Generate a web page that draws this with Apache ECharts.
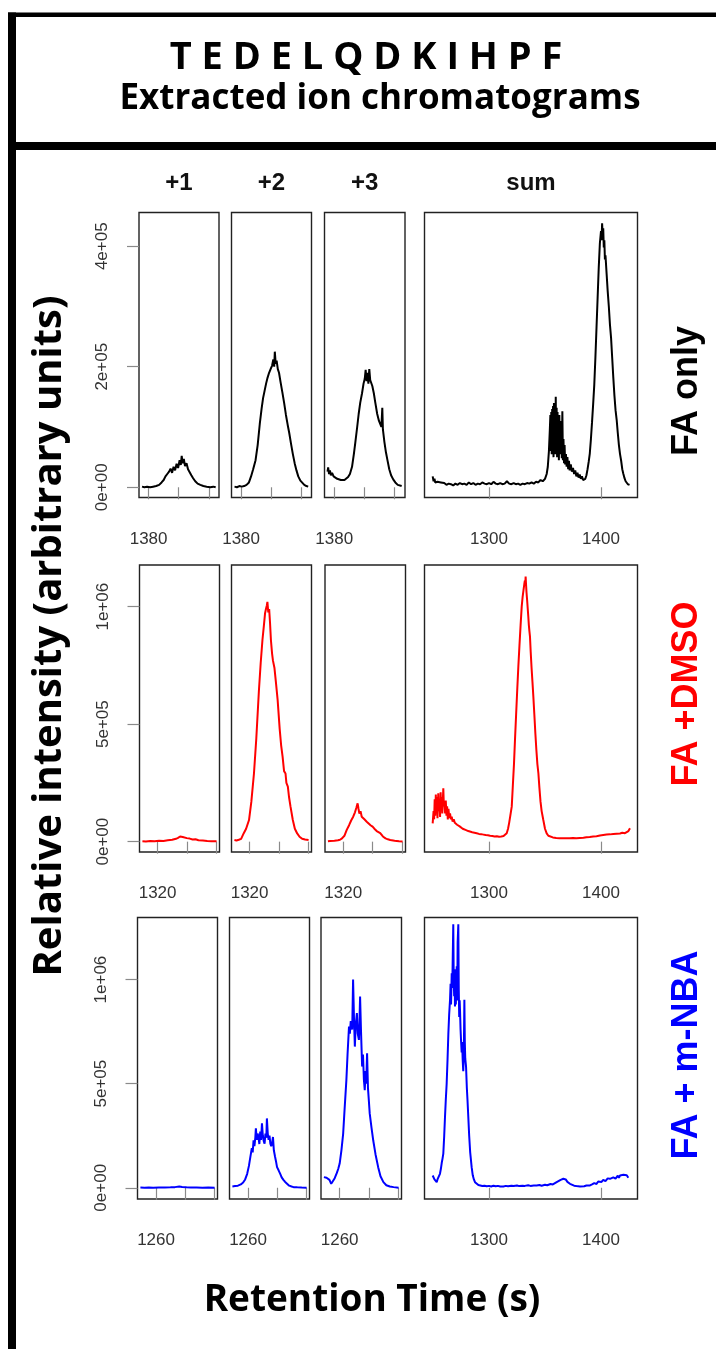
<!DOCTYPE html>
<html>
<head>
<meta charset="utf-8">
<script src="https://cdn.jsdelivr.net/npm/echarts@6/dist/echarts.min.js"></script>
<style>
html,body{margin:0;padding:0;background:#ffffff;}
#chart{width:716px;height:1349px;}
</style>
</head>
<body>
<div id="chart"></div>
<script>
// ---------------- DATA (retention time s, intensity in thousands) ----------------
const INTENSITY_UNIT = 1000;

const conditionNames = ['FA only', 'FA +DMSO', 'FA + m-NBA'];
const chargeTitles = ['+1', '+2', '+3', 'sum'];

// FA only
const faOnlyPlus1 = [[1377.8,1],[1378.6,0],[1379.5,1],[1380.5,0],[1381.5,1],[1382.5,2],[1383.5,4],[1384.3,8],[1385,12],[1385.6,18],[1386.2,22],[1386.8,26],[1387.3,31],[1387.8,24],[1388.3,34],[1388.8,28],[1389.3,39],[1389.8,32],[1390.3,45],[1390.7,37],[1391,52],[1391.3,40],[1391.7,47],[1392.1,35],[1392.6,40],[1393.1,30],[1393.6,28],[1394.2,20],[1394.8,15],[1395.5,10],[1396.3,6],[1397.2,4],[1398.2,2],[1399.3,1],[1400.5,0],[1401.5,1],[1402.3,0]];
const faOnlyPlus2 = [[1377.8,1],[1378.6,0],[1379.4,2],[1380.2,1],[1381,2],[1381.8,4],[1382.6,8],[1383.3,18],[1384,30],[1384.8,45],[1385.5,70],[1386.2,105],[1386.8,130],[1387.3,148],[1387.8,160],[1388.3,172],[1388.8,182],[1389.3,190],[1389.8,196],[1390.3,202],[1390.7,212],[1391,200],[1391.2,225],[1391.5,205],[1391.8,210],[1392.2,196],[1392.6,190],[1393.1,175],[1393.7,158],[1394.3,140],[1394.9,120],[1395.5,103],[1396,90],[1396.6,72],[1397.2,55],[1397.8,40],[1398.4,28],[1399,18],[1399.7,11],[1400.3,8],[1401,4],[1401.7,2],[1402.3,1]];
const faOnlyPlus3 = [[1377.8,26],[1378,33],[1378.3,22],[1378.6,28],[1378.9,20],[1379.3,24],[1379.8,18],[1380.3,19],[1381,14],[1381.6,16],[1382.2,12],[1382.8,15],[1383.4,12],[1384,13],[1384.6,17],[1385.2,22],[1385.9,34],[1386.5,55],[1387,75],[1387.6,100],[1388.1,122],[1388.6,140],[1389.2,156],[1389.7,172],[1390.1,180],[1390.4,195],[1390.7,176],[1391,190],[1391.3,172],[1391.6,196],[1391.9,178],[1392.2,176],[1392.6,168],[1393.1,156],[1393.6,140],[1394.2,122],[1394.8,110],[1395.3,104],[1395.6,100],[1395.9,132],[1396.1,96],[1396.6,75],[1397.1,58],[1397.6,45],[1398.2,30],[1398.8,20],[1399.5,13],[1400.2,8],[1401,4],[1402.3,2]];
const faOnlySum = [[1249.7,18],[1250.5,10],[1251.3,14],[1252,8],[1253,7],[1254,9],[1255.5,6],[1257,8],[1258.5,5],[1260,7],[1262,4],[1264,6],[1266,5],[1268,3],[1270,6],[1272,4],[1274,7],[1276,5],[1278,6],[1280,4],[1282,8],[1284,5],[1286,7],[1288,4],[1290,6],[1292,5],[1294,8],[1296,6],[1298,5],[1300,7],[1302,5],[1304,9],[1306,6],[1308,5],[1310,7],[1312,5],[1314,6],[1316,10],[1318,6],[1320,5],[1322,7],[1324,5],[1326,6],[1328,4],[1330,6],[1332,5],[1334,7],[1336,6],[1338,8],[1340,6],[1342,9],[1344,8],[1346,12],[1348,10],[1350,14],[1351.5,22],[1352.5,34],[1353.5,60],[1354.3,95],[1354.8,120],[1355.2,60],[1355.6,125],[1356,55],[1356.4,130],[1356.8,65],[1357.2,135],[1357.6,50],[1358,140],[1358.4,70],[1358.8,128],[1359.2,55],[1359.6,150],[1360,65],[1360.4,132],[1360.8,50],[1361.2,125],[1361.6,55],[1362,118],[1362.4,45],[1362.8,120],[1363.2,60],[1363.6,110],[1364,55],[1364.5,100],[1365,48],[1365.5,126],[1366,45],[1366.5,80],[1367,40],[1367.5,70],[1368,38],[1368.7,55],[1369.3,34],[1370,50],[1370.7,30],[1371.4,44],[1372,28],[1373,38],[1374,26],[1375,32],[1376,22],[1377,28],[1378,18],[1379,24],[1380,16],[1381,21],[1382,14],[1383,18],[1384,12],[1385,15],[1386,14],[1387,20],[1388,30],[1389,42],[1390,56],[1391,80],[1392,108],[1393,138],[1394,170],[1395,215],[1396,265],[1397,315],[1398,365],[1399,405],[1400,425],[1400.5,410],[1401,438],[1401.5,418],[1402,430],[1402.5,398],[1403,410],[1403.5,378],[1404,385],[1405,355],[1406,325],[1407,300],[1408,270],[1409,248],[1410,215],[1411,182],[1412,152],[1413,128],[1414,112],[1415,90],[1416,70],[1417,55],[1418,44],[1419,30],[1420,22],[1421,15],[1422,10],[1423,7],[1424,5],[1425.5,4]];

// FA + DMSO
const dmsoPlus1 = [[1314.8,2],[1316,1],[1317.5,3],[1319,2],[1320.5,4],[1322,3],[1323.5,6],[1325,8],[1326.3,12],[1327,16],[1327.7,22],[1328.2,28],[1328.6,20],[1329.2,24],[1330,15],[1331,13],[1332,9],[1333,10],[1334,6],[1335.5,5],[1337,3],[1338.5,2],[1340.2,2]];
const dmsoPlus2 = [[1314.8,7],[1315.5,5],[1316.3,8],[1317.1,12],[1318,36],[1318.8,55],[1319.8,92],[1320.6,170],[1321.5,291],[1322.3,440],[1323.2,645],[1323.8,760],[1324.4,858],[1324.9,920],[1325.3,972],[1325.6,990],[1325.9,1005],[1326.1,1020],[1326.4,975],[1326.7,990],[1327,930],[1327.3,858],[1327.7,800],[1328,770],[1328.2,766],[1328.5,740],[1329,680],[1329.6,603],[1330.3,480],[1330.8,410],[1331.3,362],[1331.8,300],[1332.3,290],[1332.6,250],[1333.1,234],[1333.5,190],[1334,150],[1334.8,92],[1335.5,55],[1336.3,35],[1337.1,21],[1338,12],[1339,9],[1340.2,7]];
const dmsoPlus3 = [[1314.8,2],[1315.5,3],[1317,4],[1318.2,6],[1318.9,8],[1319.6,14],[1320.4,25],[1321.2,50],[1322,70],[1322.7,90],[1323.4,106],[1324,125],[1324.5,145],[1324.9,163],[1325.2,140],[1325.5,120],[1325.9,130],[1326.3,106],[1326.7,112],[1327.2,95],[1328,85],[1328.6,80],[1329.3,70],[1330,64],[1330.6,55],[1331.4,45],[1332,40],[1332.6,36],[1333.5,22],[1334.4,14],[1335.2,10],[1336,7],[1337.5,4],[1339,2],[1340.2,1]];
const dmsoSum = [[1249.7,78],[1250.5,130],[1251,95],[1251.5,180],[1252,110],[1252.5,200],[1253,120],[1253.5,190],[1254,100],[1254.7,206],[1255.2,130],[1255.8,175],[1256.3,105],[1256.8,210],[1257.3,140],[1257.8,190],[1258.3,120],[1259.2,227],[1259.7,150],[1260.2,170],[1260.8,120],[1261.4,175],[1262,110],[1262.6,150],[1263.2,95],[1263.8,140],[1264.5,100],[1265.2,120],[1266,95],[1266.7,106],[1267.5,85],[1268.5,95],[1269.5,80],[1270.5,88],[1271.5,72],[1272.6,78],[1273.8,65],[1275,70],[1276.5,55],[1278,62],[1279,50],[1280,50],[1281.5,45],[1283,48],[1285,40],[1287,38],[1289,36],[1291,33],[1293,32],[1295,30],[1297,28],[1299,27],[1301,25],[1303,24],[1305,22],[1307,23],[1309,21],[1311,22],[1313,24],[1314.5,28],[1315.8,36],[1317,55],[1318,80],[1319,110],[1320.3,149],[1321.3,240],[1322.3,330],[1323.2,433],[1324.2,540],[1325.2,645],[1326.2,745],[1327.2,835],[1328.2,920],[1329.2,1000],[1330,1040],[1330.8,1070],[1331.5,1095],[1332,1110],[1332.4,1090],[1332.7,1128],[1333,1100],[1333.5,1060],[1334,1030],[1334.6,990],[1335.1,957],[1335.6,920],[1336.1,895],[1336.6,872],[1337.2,810],[1338,740],[1338.8,680],[1339.6,617],[1340.5,540],[1341.4,460],[1342.3,390],[1343.2,330],[1344.1,291],[1345,230],[1346,170],[1347,130],[1348.5,92],[1350,55],[1351.5,35],[1353,25],[1354.5,21],[1357,18],[1360,16],[1363,15],[1366,14],[1369.4,14],[1372,15],[1375,16],[1378,15],[1381,16],[1384.3,17],[1387,19],[1390,20],[1393,22],[1396,23],[1399.1,26],[1402,28],[1405,30],[1408,31],[1411,33],[1414,34],[1417,35],[1419,38],[1421.4,36],[1423,42],[1424.5,45],[1425.9,57]];

// FA + m-NBA
const nbaPlus1 = [[1254.6,1],[1256,0],[1257.5,1],[1259,0],[1261,1],[1263,1],[1265,2],[1266.5,3],[1268,6],[1269,4],[1270.5,2],[1272,1],[1274,1],[1276,0],[1278,1],[1280.2,0]];
const nbaPlus2 = [[1254.6,6],[1255.5,8],[1256.5,10],[1257.5,16],[1258.3,25],[1259,40],[1259.7,67],[1260.3,105],[1260.8,148],[1261.3,190],[1261.6,170],[1261.9,228],[1262.2,200],[1262.5,240],[1262.7,285],[1263,230],[1263.3,260],[1263.6,244],[1263.9,210],[1264.2,270],[1264.5,230],[1264.8,309],[1265.1,250],[1265.4,225],[1265.7,212],[1266,260],[1266.3,240],[1266.5,333],[1266.8,260],[1267.1,230],[1267.4,250],[1267.7,212],[1268,200],[1268.3,215],[1268.6,244],[1268.9,180],[1269.3,150],[1269.6,130],[1270,99],[1270.5,85],[1271.1,67],[1271.6,50],[1272.2,38],[1272.8,28],[1273.4,19],[1274.2,10],[1275,6],[1275.7,3],[1277,2],[1278.5,1],[1280.2,0]];
const nbaPlus3 = [[1254.6,51],[1255,55],[1255.5,48],[1256,43],[1256.5,38],[1257.1,19],[1257.6,30],[1258.3,46],[1259,70],[1259.5,90],[1260,116],[1260.6,180],[1261.2,260],[1261.7,380],[1262.3,517],[1262.7,640],[1263.2,774],[1263.5,740],[1263.8,800],[1264,807],[1264.3,760],[1264.6,1000],[1264.9,820],[1265.2,678],[1265.5,780],[1265.9,839],[1266.2,740],[1266.6,710],[1266.8,800],[1267,919],[1267.3,760],[1267.7,582],[1268,640],[1268.3,520],[1268.6,469],[1268.9,560],[1269.1,500],[1269.4,646],[1269.7,480],[1270,420],[1270.3,357],[1270.9,290],[1271.5,228],[1272.3,160],[1273.2,99],[1274,55],[1275,27],[1276,12],[1277.2,6],[1278.5,3],[1280.2,0]];
const nbaSum = [[1249.7,59],[1250.5,50],[1251.3,40],[1252,45],[1252.6,32],[1253.3,27],[1254,40],[1254.8,50],[1255.5,55],[1256.2,67],[1257,90],[1257.8,120],[1258.5,140],[1259.2,164],[1260,250],[1260.7,340],[1261.4,420],[1262.2,501],[1263,620],[1263.7,740],[1264.4,830],[1265.2,903],[1265.7,980],[1266.1,880],[1266.7,1030],[1267.2,960],[1267.6,1100],[1268.1,1265],[1268.5,1000],[1268.9,920],[1269.3,1050],[1269.6,871],[1270,950],[1270.4,880],[1270.8,1000],[1271.2,1064],[1271.6,900],[1272,1180],[1272.6,1265],[1273,950],[1273.4,820],[1273.8,900],[1274.1,855],[1274.6,760],[1275.1,700],[1275.6,650],[1276,700],[1276.5,614],[1277,560],[1277.5,640],[1278,903],[1278.4,700],[1278.8,620],[1279.5,582],[1280.2,480],[1280.8,420],[1281.5,341],[1282.3,250],[1283.2,170],[1284.5,99],[1285.5,60],[1286.5,40],[1287.5,27],[1289,18],[1290.5,13],[1292,11],[1294,8],[1296,10],[1298,7],[1300,9],[1302,6],[1304,10],[1306,7],[1308,9],[1310,6],[1312.8,6],[1315,9],[1317,7],[1320,10],[1322,8],[1325,11],[1327,8],[1330,10],[1332,9],[1335,12],[1337,9],[1340,11],[1342.6,11],[1345,13],[1347,10],[1350,14],[1352,12],[1355,18],[1357,16],[1358.5,24],[1360.4,27],[1362,32],[1364,38],[1366.4,43],[1367.5,36],[1368.5,40],[1370,28],[1372.3,19],[1374,14],[1376,10],[1378,8],[1381.3,6],[1383,9],[1385,7],[1387,11],[1390.2,11],[1392,16],[1394,22],[1396,18],[1397.5,30],[1399.1,35],[1400.5,28],[1402,38],[1404,32],[1406,45],[1408,43],[1409.5,38],[1411,50],[1413,44],[1415,58],[1416,48],[1417,59],[1418.5,52],[1420,62],[1421.5,55],[1423,60],[1424.4,48]];

// Axis tick values and labels
const smallXTicks = [[1380,1390,1400],[1320,1330,1340],[1260,1270,1280]];
const smallXLabels = [[1380],[1320],[1260]];
const sumXTicks = [1300,1400];
const yTickValues = [[0,200000,400000],[0,500000,1000000],[0,500000,1000000]];
const yTickLabels = [['0e+00','2e+05','4e+05'],['0e+00','5e+05','1e+06'],['0e+00','5e+05','1e+06']];

// Axis ranges
const smallXRange = [[1376.8,1403.4],[1313.8,1341.2],[1253.6,1281.2]];
const sumXRange = [1242.4,1432.6];
const yRange = [[-17000,456000],[-44000,1177000],[-54000,1298000]];

// ---------------- STYLE / LAYOUT ----------------
const rowColors = ['#000000','#ff0000','#0000ff'];
const rowTop = [212.5, 565, 917.5];
const rowHeight = [285, 287, 281.5];
const colLeft = [[139,231.5,324.5,424.5],[139.5,231.5,325,424.5],[137.5,229.5,321,424.5]];
const colWidth = [80,80,80.5,213];

const rowData = [
  [faOnlyPlus1, faOnlyPlus2, faOnlyPlus3, faOnlySum],
  [dmsoPlus1, dmsoPlus2, dmsoPlus3, dmsoSum],
  [nbaPlus1, nbaPlus2, nbaPlus3, nbaSum]
];

const TICK_FONT = '"Liberation Sans", Arial, Helvetica, sans-serif';
const BIG_FONT = '"Open Sans", Lato, sans-serif';
const LABEL_FONT = '"Liberation Sans", Arial, sans-serif';

const grids = [], xAxes = [], yAxes = [], series = [];
for (let r = 0; r < 3; r++) {
  for (let c = 0; c < 4; c++) {
    const idx = r * 4 + c;
    const isSum = c === 3;
    grids.push({
      left: colLeft[r][c], top: rowTop[r], width: colWidth[c], height: rowHeight[r],
      show: true, borderColor: '#222222', borderWidth: 1.4, backgroundColor: 'transparent',
      containLabel: false, outerBoundsMode: 'none'
    });
    const xr = isSum ? sumXRange : smallXRange[r];
    xAxes.push({
      type: 'value', gridIndex: idx, min: xr[0], max: xr[1],
      axisLine: { show: false },
      splitLine: { show: false },
      axisTick: { show: true, length: 12, inside: false, customValues: isSum ? sumXTicks : smallXTicks[r],
        lineStyle: { color: '#8a8a8a', width: 1.2 } },
      axisLabel: { show: true, customValues: isSum ? sumXTicks : smallXLabels[r], margin: 33,
        fontSize: 17, fontFamily: TICK_FONT, color: '#333333',
        showMinLabel: true, showMaxLabel: true, hideOverlap: false,
        formatter: (v) => String(v) }
    });
    const showY = c === 0;
    yAxes.push({
      type: 'value', gridIndex: idx, min: yRange[r][0], max: yRange[r][1],
      axisLine: { show: false },
      splitLine: { show: false },
      axisTick: { show: showY, length: 12, customValues: yTickValues[r],
        lineStyle: { color: '#8a8a8a', width: 1.2 } },
      axisLabel: { show: showY, customValues: yTickValues[r], rotate: 90, margin: 28,
        fontSize: 17, fontFamily: TICK_FONT, color: '#333333',
        formatter: (v) => { const i = yTickValues[r].indexOf(v); return i >= 0 ? yTickLabels[r][i] : ''; } }
    });
    series.push({
      type: 'line', xAxisIndex: idx, yAxisIndex: idx,
      data: rowData[r][c].map(p => [p[0], p[1] * INTENSITY_UNIT]),
      showSymbol: false, symbol: 'none', smooth: false,
      lineStyle: { color: rowColors[r], width: 2 },
      itemStyle: { color: rowColors[r] },
      silent: true, animation: false, clip: true
    });
  }
}

// ---------------- TEXT & FRAME ----------------
function txt(text, x, y, size, color, family, rot, weight) {
  return {
    type: 'text', x: x, y: y, rotation: rot || 0, silent: true, z: 10,
    style: { text: text, fontSize: size, fontWeight: weight || 'bold', fontFamily: family, fill: color,
      align: 'center', verticalAlign: 'middle', textAlign: 'center', textVerticalAlign: 'middle' }
  };
}
const graphics = [
  { type: 'rect', shape: { x: 8, y: 12.5, width: 708, height: 4.5 }, style: { fill: '#000' }, silent: true },
  { type: 'rect', shape: { x: 8, y: 142, width: 708, height: 8 }, style: { fill: '#000' }, silent: true },
  { type: 'rect', shape: { x: 8, y: 12.5, width: 8, height: 1337 }, style: { fill: '#000' }, silent: true },
  txt('T E D E L Q D K I H P F', 366, 58, 38, '#000', BIG_FONT),
  txt('Extracted ion chromatograms', 380, 99, 35, '#000', BIG_FONT),
  txt('Retention Time (s)', 372, 1300, 37, '#000', BIG_FONT),
  txt('Relative intensity (arbitrary units)', 50, 636, 40, '#000', BIG_FONT, Math.PI / 2)
];
const rowLabelY = [391, 694, 1055];
for (let r = 0; r < 3; r++) {
  graphics.push(txt(conditionNames[r], 687, rowLabelY[r], 36, rowColors[r], LABEL_FONT, Math.PI / 2));
}
for (let c = 0; c < 4; c++) {
  graphics.push(txt(chargeTitles[c], colLeft[0][c] + colWidth[c] / 2, 183, 24, '#111', LABEL_FONT));
}

const chart = echarts.init(document.getElementById('chart'), null, { renderer: 'canvas' });
chart.setOption({
  backgroundColor: '#ffffff',
  animation: false,
  grid: grids,
  xAxis: xAxes,
  yAxis: yAxes,
  series: series,
  graphic: graphics
});
</script>
</body>
</html>
